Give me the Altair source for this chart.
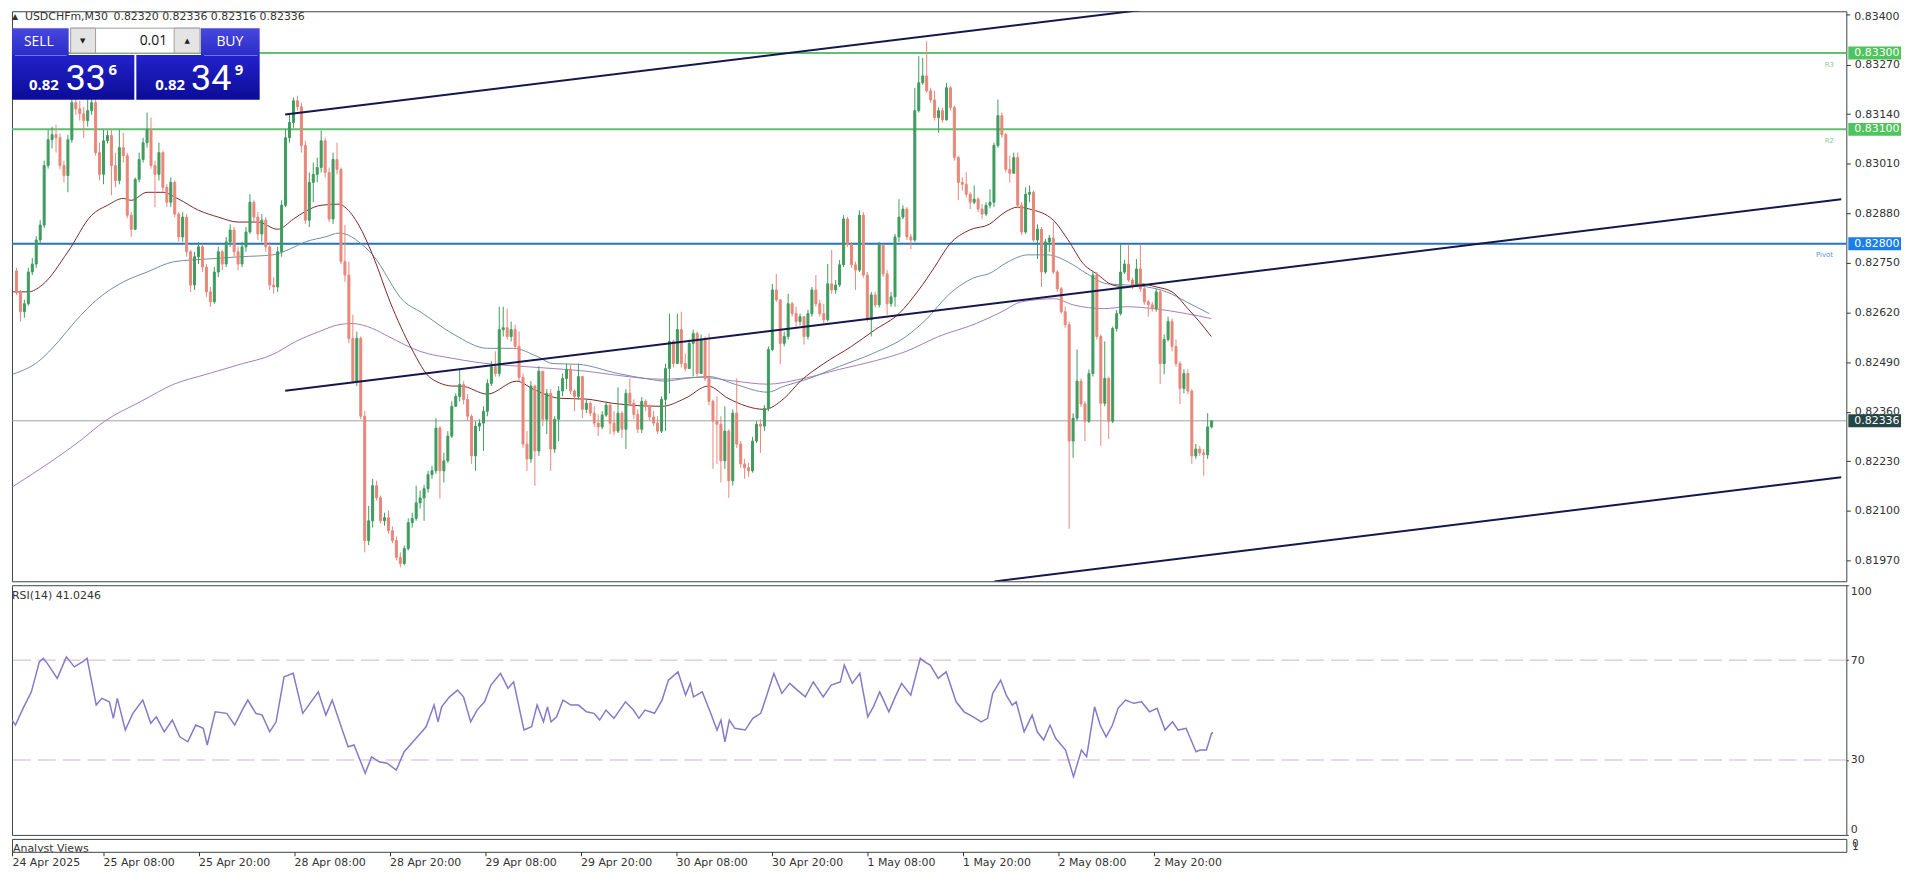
import json
import altair as alt
import numpy as np
import pandas as pd

FONT = "DejaVu Sans"
W, H_MAIN, H_RSI, H_STRIP = 1844, 573, 251, 13
X_DOMAIN = [1.125, 462.125]
P_DOMAIN = [0.819154, 0.834096]

# ---------------- data ----------------
symbol_text = "USDCHFm,M30"
ohlc_text = "0.82320 0.82336 0.82316 0.82336"

first_bar = 1
first_open = 82729
closes = [
    82674, 82622, 82643, 82726, 82747, 82810, 82849, 83005, 83073, 83086,
    83078, 83005, 82979, 83073, 83170, 83154, 83141, 83123, 83149, 83170,
    83039, 82982, 83070, 83084, 83005, 82966, 83052, 83031, 82875, 82838,
    82969, 83021, 83065, 83099, 83005, 82982, 83039, 82948, 82909, 82961,
    82878, 82818, 82870, 82779, 82692, 82766, 82792, 82739, 82674, 82648,
    82726, 82779, 82747, 82805, 82836, 82779, 82747, 82792, 82831, 82909,
    82870, 82826, 82862, 82792, 82692, 82687, 82779, 82901, 83078, 83118,
    83175, 83159, 83058, 82862, 82961, 82982, 83000, 83070, 82987, 82865,
    83021, 82995, 82753, 82718, 82552, 82440, 82552, 82348, 82022, 82074,
    82166, 82134, 82074, 82082, 82048, 82022, 81978, 81962, 82001, 82069,
    82080, 82121, 82134, 82158, 82195, 82205, 82317, 82205, 82231, 82296,
    82374, 82400, 82431, 82392, 82348, 82244, 82322, 82330, 82361, 82434,
    82478, 82460, 82575, 82580, 82557, 82575, 82531, 82450, 82275, 82236,
    82427, 82257, 82466, 82340, 82408, 82262, 82340, 82414, 82447, 82471,
    82414, 82400, 82452, 82366, 82382, 82356, 82330, 82320, 82351, 82377,
    82330, 82309, 82356, 82314, 82408, 82382, 82353, 82314, 82387, 82374,
    82346, 82330, 82309, 82392, 82473, 82544, 82486, 82575, 82486, 82473,
    82539, 82565, 82460, 82549, 82447, 82387, 82335, 82327, 82231, 82309,
    82179, 82356, 82275, 82223, 82213, 82205, 82283, 82327, 82322, 82369,
    82523, 82679, 82653, 82539, 82557, 82643, 82617, 82596, 82609, 82557,
    82617, 82679, 82643, 82617, 82601, 82695, 82679, 82692, 82745, 82865,
    82799, 82745, 82731, 82875, 82718, 82601, 82666, 82640, 82797, 82721,
    82643, 82661, 82818, 82870, 82891, 82818, 82810, 83149, 83222, 83240,
    83201, 83177, 83131, 83149, 83125, 83209, 83157, 83026, 82961, 82956,
    82930, 82909, 82917, 82891, 82878, 82901, 82909, 83058, 83136, 83086,
    82995, 82985, 83026, 82901, 82831, 82930, 82935, 82810, 82838, 82726,
    82805, 82815, 82726, 82682, 82622, 82588, 82283, 82343, 82440, 82380,
    82335, 82460, 82718, 82557, 82382, 82447, 82335, 82578, 82617, 82726,
    82747, 82705, 82692, 82734, 82682, 82648, 82640, 82630, 82674, 82486,
    82549, 82596, 82531, 82486, 82421, 82460, 82414, 82244, 82262, 82252,
    82247, 82320, 82336,
]
highs = [
    82737, 82679, 82653, 82737, 82763, 82820, 82862, 83018, 83099, 83107,
    83112, 83089, 83018, 83086, 83190, 83196, 83175, 83159, 83180, 83201,
    83180, 83065, 83099, 83097, 83099, 83039, 83099, 83091, 83039, 82883,
    82974, 83039, 83078, 83144, 83131, 83018, 83065, 83044, 82956, 82974,
    82966, 82883, 82883, 82878, 82784, 82779, 82805, 82799, 82747, 82687,
    82739, 82792, 82784, 82818, 82851, 82844, 82792, 82805, 82844, 82930,
    82914, 82883, 82878, 82870, 82805, 82713, 82792, 82914, 83099, 83138,
    83183, 83188, 83170, 83070, 82987, 83013, 83026, 83097, 83078, 83000,
    83039, 83065, 83000, 82849, 82753, 82614, 82570, 82557, 82361, 82113,
    82184, 82179, 82140, 82095, 82101, 82059, 82033, 81991, 82009, 82080,
    82095, 82166, 82153, 82168, 82205, 82218, 82343, 82322, 82252, 82309,
    82387, 82408, 82471, 82440, 82406, 82353, 82335, 82340, 82374, 82445,
    82492, 82518, 82635, 82635, 82630, 82596, 82588, 82570, 82460, 82309,
    82440, 82431, 82479, 82431, 82419, 82419, 82348, 82427, 82460, 82486,
    82484, 82419, 82486, 82414, 82392, 82387, 82374, 82353, 82361, 82387,
    82382, 82361, 82424, 82361, 82419, 82447, 82392, 82366, 82398, 82392,
    82379, 82361, 82348, 82400, 82486, 82617, 82549, 82617, 82622, 82512,
    82549, 82575, 82570, 82562, 82557, 82565, 82392, 82400, 82348, 82374,
    82314, 82366, 82447, 82283, 82236, 82226, 82294, 82335, 82340, 82377,
    82531, 82695, 82721, 82635, 82570, 82669, 82648, 82635, 82617, 82609,
    82627, 82687, 82718, 82653, 82643, 82747, 82784, 82705, 82758, 82875,
    82870, 82805, 82753, 82888, 82883, 82726, 82674, 82674, 82805, 82799,
    82731, 82674, 82826, 82917, 82901, 82896, 82826, 83209, 83292, 83287,
    83331, 83209, 83201, 83157, 83157, 83222, 83214, 83162, 83031, 82974,
    82987, 82935, 82953, 82922, 82904, 82909, 82943, 83065, 83178, 83144,
    83091, 83031, 83039, 83039, 82909, 82948, 82953, 82940, 82851, 82844,
    82813, 82823, 82857, 82731, 82687, 82635, 82596, 82356, 82523, 82447,
    82387, 82471, 82726, 82726, 82562, 82544, 82452, 82583, 82627, 82799,
    82758, 82799, 82711, 82760, 82799, 82687, 82653, 82648, 82682, 82679,
    82562, 82609, 82604, 82549, 82492, 82471, 82471, 82419, 82275, 82270,
    82262, 82356, 82336,
]
lows = [
    82666, 82596, 82606, 82638, 82718, 82737, 82799, 82841, 82997, 83050,
    83039, 82995, 82961, 82935, 83065, 83138, 83123, 83078, 83107, 83138,
    83031, 82966, 82956, 83063, 82927, 82948, 82956, 83013, 82867, 82818,
    82836, 82961, 83013, 83052, 82997, 82896, 82966, 82935, 82896, 82896,
    82870, 82805, 82805, 82766, 82674, 82679, 82747, 82726, 82661, 82635,
    82643, 82713, 82731, 82739, 82792, 82766, 82731, 82739, 82779, 82826,
    82857, 82810, 82805, 82779, 82679, 82669, 82674, 82766, 82896, 83065,
    83104, 83149, 83039, 82852, 82844, 82909, 82961, 82987, 82974, 82857,
    82852, 82982, 82747, 82700, 82539, 82434, 82427, 82340, 81991, 82010,
    82056, 82127, 82067, 82061, 82040, 82015, 81970, 81952, 81957, 81996,
    82056, 82074, 82106, 82074, 82148, 82184, 82197, 82132, 82174, 82226,
    82291, 82374, 82387, 82379, 82335, 82223, 82205, 82309, 82257, 82348,
    82427, 82452, 82452, 82557, 82549, 82544, 82523, 82440, 82265, 82205,
    82226, 82166, 82244, 82322, 82301, 82205, 82252, 82283, 82400, 82419,
    82406, 82361, 82392, 82343, 82356, 82348, 82320, 82296, 82314, 82346,
    82301, 82299, 82304, 82291, 82262, 82374, 82340, 82304, 82304, 82361,
    82335, 82322, 82301, 82304, 82309, 82408, 82476, 82497, 82476, 82466,
    82476, 82452, 82452, 82460, 82440, 82377, 82210, 82223, 82174, 82210,
    82134, 82166, 82265, 82213, 82184, 82189, 82200, 82278, 82252, 82309,
    82361, 82518, 82648, 82484, 82531, 82549, 82609, 82583, 82586, 82536,
    82549, 82609, 82635, 82609, 82591, 82596, 82669, 82669, 82687, 82739,
    82792, 82737, 82679, 82726, 82711, 82596, 82557, 82633, 82633, 82713,
    82614, 82635, 82635, 82805, 82865, 82810, 82786, 82805, 83144, 83217,
    83196, 83170, 83123, 83091, 83118, 83123, 83149, 83018, 82914, 82940,
    82922, 82891, 82904, 82883, 82865, 82873, 82893, 82896, 83052, 83078,
    82987, 82961, 82987, 82893, 82823, 82826, 82909, 82805, 82760, 82687,
    82721, 82779, 82721, 82674, 82617, 82580, 82053, 82239, 82335, 82372,
    82283, 82330, 82452, 82549, 82270, 82374, 82288, 82330, 82570, 82612,
    82721, 82700, 82682, 82687, 82674, 82640, 82609, 82622, 82622, 82432,
    82458, 82544, 82518, 82478, 82380, 82408, 82406, 82223, 82236, 82244,
    82192, 82236, 82316,
]

ma_fast_bar = [0, 4, 7.5, 14, 20, 24, 28, 30, 34, 38, 42, 47, 52, 57, 62, 67, 71, 74, 78, 82.5, 84, 87.5,
               91, 95.4, 100.8, 105.8, 111.6, 113.3, 120, 127.4, 131.6, 138.3, 144.9, 151.6, 164.1, 170,
               175.8, 180.8, 190, 195, 199.1, 205, 212, 218, 224, 229, 233, 236.8, 241.8, 246.8, 250.8,
               254, 257, 263, 266.6, 270.8, 274, 278, 281.6, 285, 289, 293, 297, 299.9, 302.9]
ma_fast_val = [82674, 82674, 82692, 82779, 82875, 82901, 82919, 82914, 82935, 82935, 82917, 82888, 82870,
               82857, 82857, 82838, 82865, 82885, 82901, 82904, 82896, 82849, 82771, 82648, 82526, 82447,
               82427, 82427, 82406, 82440, 82419, 82395, 82393, 82382, 82374, 82395, 82427, 82395, 82366,
               82395, 82440, 82486, 82531, 82575, 82617, 82679, 82739, 82799, 82836, 82851, 82883, 82896,
               82891, 82862, 82812, 82745, 82721, 82692, 82687, 82695, 82687, 82674, 82630, 82596, 82557]
ma_mid_bar = [0, 6.6, 11.6, 15.8, 21.6, 28, 34, 40.8, 49, 57.5, 65.8, 70, 74, 79, 82.5, 84, 87.5, 91, 99,
              103, 111.6, 120, 126.6, 132.5, 136.6, 143, 153, 161, 164.9, 170, 176, 182.5, 190.8, 195,
              200.8, 209, 217.5, 225.8, 230.8, 236.8, 243.5, 246.6, 251.6, 256.6, 261.6, 266.6, 271.6,
              276.6, 281.6, 286.6, 291.6, 296.6, 302.4]
ma_mid_val = [82458, 82492, 82544, 82596, 82656, 82700, 82726, 82753, 82760, 82766, 82771, 82786, 82805,
              82818, 82828, 82826, 82805, 82771, 82648, 82622, 82562, 82526, 82526, 82505, 82486, 82484,
              82460, 82445, 82440, 82447, 82452, 82432, 82411, 82427, 82445, 82479, 82513, 82557, 82601,
              82669, 82713, 82721, 82753, 82771, 82771, 82753, 82721, 82695, 82692, 82687, 82674, 82648,
              82617]
ma_slow_bar = [0, 10, 17, 23.3, 32.5, 40.8, 49, 57.5, 65.8, 71.6, 77.5, 82.5, 85.8, 91, 95, 103, 111.6,
               121.6, 128.3, 136.6, 145, 153, 164, 174, 182.5, 190.8, 199, 209, 217.5, 225.8, 234, 243.5,
               250, 255, 263.3, 268, 275.8, 281.6, 288.3, 296.6, 302.9]
ma_slow_val = [82163, 82231, 82283, 82335, 82387, 82432, 82458, 82484, 82510, 82544, 82570, 82588, 82591,
               82578, 82557, 82518, 82499, 82484, 82479, 82473, 82466, 82455, 82445, 82450, 82440, 82432,
               82445, 82471, 82492, 82518, 82557, 82591, 82622, 82648, 82656, 82640, 82630, 82635, 82630,
               82617, 82604]

rsi_bar = [-0.9, 2, 4, 6, 8, 9, 10, 12.5, 14.8, 16.8, 18.8, 20, 22.3, 23.7, 25.6, 26.6, 27.6, 29.6, 31.5,
           34, 36, 37.4, 39.4, 41.4, 43.3, 45.3, 47.3, 49.2, 50.2, 52.2, 55.1, 57.1, 59, 60.4, 62.4, 64,
           65.9, 67.5, 69.5, 71.8, 74.2, 75.7, 78.1, 80, 81.6, 84, 85.6, 87.1, 89.9, 91.5, 93.4, 95.4, 97.7,
           99.7, 102.3, 105.2, 107.2, 108.2, 109.1, 111.1, 113.1, 114.6, 116.4, 118, 119.9, 121.5, 123.9,
           125.8, 127.2, 129.8, 131.7, 133.1, 134.7, 135.7, 136.6, 138, 139.6, 141.6, 143.5, 145.5, 147.4,
           148.8, 150.4, 152.4, 155.3, 157.3, 158.7, 160.2, 162.6, 164.5, 166.1, 168.5, 170.4, 171.6,
           172.4, 174.6, 176.9, 178.3, 179.3, 180.3, 181.4, 182.8, 185.4, 187.3, 189.3, 190.7, 192.6,
           194.6, 196.6, 198.5, 200.5, 202.5, 205, 207, 209.3, 210.3, 212.3, 214.2, 216.2, 217.6, 219.2,
           221.5, 223.1, 224.7, 227, 229.4, 230.5, 231.9, 233.9, 235.9, 238.4, 240.4, 242.7, 244.7, 246.3,
           247.6, 249.6, 251, 252.5, 253.5, 255.5, 257.5, 258.8, 260.4, 262, 263.4, 265.9, 267.9, 269.9,
           271.2, 273.2, 274.6, 276.1, 277.7, 279.1, 281, 283, 285, 287, 288.9, 290.9, 292.8, 294.2,
           296.2, 298.7, 299.7, 301.3, 302.6, 303]
rsi_val = [50.7, 44, 51, 57.3, 69.3, 70.7, 68.7, 62.7, 71.3, 67.3, 69.3, 70.7, 52, 54.7, 53.3, 46.7, 54.7,
           42, 48.7, 54, 44.7, 47.3, 41.3, 46, 39.3, 37.3, 44, 42.7, 36, 49.3, 48.7, 44, 50, 54, 48.7, 48,
           41.3, 45.3, 63.3, 64.7, 48.7, 52, 57.3, 48, 54, 42.7, 35.3, 36, 24.7, 31.3, 29.3, 28.7, 26,
           33.3, 38, 43.3, 52, 45.3, 51.3, 55.3, 58, 55.3, 45.3, 50, 53.3, 60, 64.7, 58.7, 61.3, 42, 43.3,
           52, 45.3, 51.3, 45.3, 47.3, 54, 52, 52, 49.3, 48.7, 46, 50, 46.7, 53.3, 50, 46.7, 50, 48.7, 54,
           62, 65.3, 56, 60.7, 55.3, 57.3, 48, 42, 46, 37.3, 46, 42.7, 42, 46.7, 48.7, 55.3, 64.7, 56.7,
           60.7, 58, 55.3, 61.3, 55.3, 60, 61.3, 68, 60.7, 64.7, 47.3, 51.3, 57.3, 49.3, 55.3, 60.7, 56,
           70.7, 69.3, 68, 62.7, 65.3, 53.3, 49.3, 47.3, 45.3, 46.7, 56.7, 62, 56, 52, 53.3, 41.3, 48,
           41.3, 38, 44, 38.7, 34, 23.3, 34, 31.3, 51.3, 44, 39.3, 44, 50.7, 54, 52.7, 53.3, 49.3, 50.7,
           42, 45.3, 42, 42.7, 33.3, 34, 34, 40.7, 41.02]
rsi_last = "41.0246"

level_prices = [0.83300, 0.83100, 0.82800]
level_names = ["R3", "R2", "Pivot"]
bid_price = 0.82336

trend_names = ["upper", "middle", "lower"]
trend_bar_start = [68.9, 68.9, 248.1]
trend_bar_end = [290.9, 462.1, 462.1]
trend_price_start = [0.83139, 0.82415, 0.81915]
trend_price_end = [0.83420, 0.82917, 0.82188]

price_ticks = [0.81970, 0.82100, 0.82230, 0.82360, 0.82490, 0.82620,
               0.82750, 0.82880, 0.83010, 0.83140, 0.83270, 0.83400]
rsi_ticks = [0, 30, 70, 100]
rsi_levels = [70, 30]
xtick_bars = [0, 24, 48, 72, 96, 120, 144, 168, 192, 216, 240, 264, 288]
xtick_labels = ["24 Apr 2025", "25 Apr 08:00", "25 Apr 20:00", "28 Apr 08:00", "28 Apr 20:00",
                "29 Apr 08:00", "29 Apr 20:00", "30 Apr 08:00", "30 Apr 20:00", "1 May 08:00",
                "1 May 20:00", "2 May 08:00", "2 May 20:00"]

lot_text = "0.01"
sell_parts = ["0.82", "33", "6"]
buy_parts = ["0.82", "34", "9"]

# ---------------- colours ----------------
UP, DOWN = "#3e9c5f", "#e8877a"
MA_COLS = {"fast": "#7d2626", "mid": "#6f8f9f", "slow": "#a47cbd"}
TREND = "#16164e"
GREEN_LVL, PIVOT_LVL, BID_LVL = "#62bf70", "#2474b6", "#9aa3a3"
BOX_GREEN, BOX_BLUE, BOX_DARK = "#4fc45c", "#1a7ee6", "#264646"
TXT = "#333333"
FRAME = "#3a4646"
RSI_COL = "#8878c8"

# ---------------- tables ----------------
n = min(len(closes), len(highs), len(lows))
bars = list(range(first_bar, first_bar + n))
opens = [first_open] + closes[: n - 1]
cdf = pd.DataFrame({"bar": bars, "open": opens, "close": closes[:n], "high": highs[:n], "low": lows[:n]})
cdf["high"] = cdf[["high", "open", "close"]].max(axis=1)
cdf["low"] = cdf[["low", "open", "close"]].min(axis=1)
for c in ["open", "close", "high", "low"]:
    cdf[c] = cdf[c] / 1e5
cdf["col"] = np.where(cdf["close"] >= cdf["open"], UP, DOWN)

ma_rows = []
for name, bb, vv in [("slow", ma_slow_bar, ma_slow_val), ("mid", ma_mid_bar, ma_mid_val),
                     ("fast", ma_fast_bar, ma_fast_val)]:
    for b, v in zip(bb, vv):
        ma_rows.append({"ma": name, "bar": b, "price": v / 1e5, "col": MA_COLS[name]})
madf = pd.DataFrame(ma_rows)

trows = []
for nm, b0, b1, p0, p1 in zip(trend_names, trend_bar_start, trend_bar_end, trend_price_start, trend_price_end):
    trows.append({"line": nm, "bar": b0, "price": p0})
    trows.append({"line": nm, "bar": b1, "price": p1})
tdf = pd.DataFrame(trows)

rsidf = pd.DataFrame({"bar": rsi_bar, "rsi": rsi_val})

box_df = pd.DataFrame({
    "price": level_prices + [bid_price],
    "label": [f"{p:.5f}" for p in level_prices + [bid_price]],
    "bcol": [BOX_GREEN, BOX_GREEN, BOX_BLUE, BOX_DARK],
})

# the top tick sits too close to the panel edge for an axis label; draw it by hand
top_tick = max(price_ticks)
axis_ticks = [t for t in price_ticks if t < top_tick]

# ---------------- scales / axes ----------------
xs = alt.Scale(domain=X_DOMAIN, nice=False, zero=False)
ps = alt.Scale(domain=P_DOMAIN, nice=False, zero=False)
rs = alt.Scale(domain=[0, 100], nice=False, zero=False)

yax = alt.Axis(orient="right", values=axis_ticks, format=".5f", tickSize=4, labelPadding=4,
               domain=False, grid=False, title=None,
               labelFont=FONT, labelFontSize=11, labelColor=TXT, tickColor=TXT, labelOverlap=False)
rax = alt.Axis(orient="right", values=rsi_ticks, format="d", tickSize=2, labelPadding=2,
               labelFlush=True, domain=False, grid=False, title=None, labelFont=FONT,
               labelFontSize=11, labelColor=TXT, tickColor=TXT, labelOverlap=False)
tick_vals = [max(v, X_DOMAIN[0]) for v in xtick_bars]
label_expr = f"{json.dumps(xtick_labels)}[indexof({json.dumps(tick_vals)}, datum.value)]"
xax = alt.Axis(orient="bottom", values=tick_vals, labelExpr=label_expr, tickSize=4, labelPadding=1,
               labelAlign="left", labelBaseline="top", labelFont=FONT, labelFontSize=11,
               labelColor=TXT, tickColor=TXT, domain=False, grid=False, title=None,
               labelOverlap=False, labelFlush=False, labelBound=False)


def XB():
    return alt.X("bar:Q", scale=xs, axis=None)


def YP(field):
    return alt.Y(f"{field}:Q", scale=ps, axis=yax)


def txt(s, x, y, size=11, color=TXT, font=FONT, weight="normal", align="left",
        baseline="middle", clip=False):
    return alt.Chart(pd.DataFrame({"t": [s]})).mark_text(
        align=align, baseline=baseline, fontSize=size, font=font, fontWeight=weight,
        color=color, clip=clip).encode(x=alt.value(x), y=alt.value(y), text="t:N")


def box(x1, x2, y1, y2, fill, stroke=None):
    kw = {"fill": fill}
    if stroke is not None:
        kw["stroke"] = stroke
        kw["strokeWidth"] = 1
    return alt.Chart(pd.DataFrame({"a": [0]})).mark_rect(**kw).encode(
        x=alt.value(x1), x2=alt.value(x2), y=alt.value(y1), y2=alt.value(y2))


lvl_green = alt.Chart(pd.DataFrame({"price": level_prices[:2]})).mark_rule(
    color=GREEN_LVL, strokeWidth=2).encode(y=YP("price"))
lvl_pivot = alt.Chart(pd.DataFrame({"price": level_prices[2:]})).mark_rule(
    color=PIVOT_LVL, strokeWidth=2).encode(y=YP("price"))
lvl_bid = alt.Chart(pd.DataFrame({"price": [bid_price]})).mark_rule(
    color=BID_LVL, strokeWidth=1).encode(y=YP("price"))

ma_lines = alt.Chart(madf).mark_line(clip=True, strokeWidth=1, interpolate="monotone").encode(
    x=XB(), y=YP("price"), detail="ma:N", color=alt.Color("col:N", scale=None))

wicks = alt.Chart(cdf).mark_rule(clip=True, strokeWidth=1).encode(
    x=XB(), y=YP("low"), y2="high:Q", color=alt.Color("col:N", scale=None))
bodies = alt.Chart(cdf).mark_bar(clip=True, width=2, strokeWidth=1).encode(
    x=XB(), y=YP("open"), y2="close:Q", color=alt.Color("col:N", scale=None),
    stroke=alt.Stroke("col:N", scale=None))

trends = alt.Chart(tdf).mark_line(clip=True, color=TREND, strokeWidth=2).encode(
    x=XB(), y=YP("price"), detail="line:N")

boxes = alt.Chart(box_df).mark_rule(strokeWidth=13).encode(
    x=alt.value(W + 2), x2=alt.value(W + 55), y=YP("price"), color=alt.Color("bcol:N", scale=None))
box_txt = alt.Chart(box_df).mark_text(align="left", baseline="middle", font=FONT, fontSize=11,
                                      color="white").encode(
    x=alt.value(W + 8), y=YP("price"), text="label:N")

top_tick_mark = alt.Chart(pd.DataFrame({"price": [top_tick]})).mark_rule(
    color=TXT, strokeWidth=1).encode(x=alt.value(W), x2=alt.value(W + 4), y=YP("price"))
top_tick_label = txt(f"{top_tick:.5f}", W + 8, 5.5, 11, TXT)

grad_top = {"gradient": "linear", "x1": 0, "y1": 0, "x2": 0, "y2": 1,
            "stops": [{"offset": 0, "color": "#4848de"}, {"offset": 1, "color": "#2c2cc8"}]}
grad_low = {"gradient": "linear", "x1": 0, "y1": 0, "x2": 0, "y2": 1,
            "stops": [{"offset": 0, "color": "#2222cc"}, {"offset": 1, "color": "#0c0c96"}]}

panel = [
    box(0, 57, 17, 44, grad_top),
    box(190, 249, 17, 44, grad_top),
    box(0, 123, 44, 89, grad_low),
    box(125, 249, 44, 89, grad_low),
    box(3, 55, 44, 45, "#7070ee"),
    box(193, 247, 44, 45, "#7070ee"),
    box(59, 189, 17, 42, "white", "#a0a0a0"),
    box(59, 84, 17, 42, "#e4e4e4", "#a0a0a0"),
    box(163, 189, 17, 42, "#e4e4e4", "#a0a0a0"),
    txt("SELL", 27, 31, 14, "white", "Open Sans", align="center"),
    txt("BUY", 219, 31, 14, "white", "Open Sans", align="center"),
    txt(lot_text, 156, 30, 14, "#111111", "Open Sans", align="right"),
    txt("▼", 71, 30, 7, "#222222", align="center"),
    txt("▲", 176, 30, 7, "#222222", align="center"),
    txt(sell_parts[0], 17, 79, 15, "white", "Open Sans", "bold", baseline="alphabetic"),
    txt(sell_parts[1], 54, 79, 36, "white", "Roboto", baseline="alphabetic"),
    txt(sell_parts[2], 97, 64, 15, "white", "Open Sans", "bold", baseline="alphabetic"),
    txt(buy_parts[0], 144, 79, 15, "white", "Open Sans", "bold", baseline="alphabetic"),
    txt(buy_parts[1], 180, 79, 36, "white", "Roboto", baseline="alphabetic"),
    txt(buy_parts[2], 224, 64, 15, "white", "Open Sans", "bold", baseline="alphabetic"),
]

labels_main = [
    txt("▲", 0, 2, 8, TXT, baseline="top"),
    txt(symbol_text, 13, 0, 11, TXT, baseline="top"),
    txt(ohlc_text, 102, 0, 11, TXT, baseline="top"),
    txt(level_names[0], 1827, 54, 7, "#90c89a", align="center"),
    txt(level_names[1], 1827, 130, 7, "#90c89a", align="center"),
    txt(level_names[2], 1822, 245, 7, "#5b8fd6", align="center"),
]

main = alt.layer(lvl_green, lvl_pivot, lvl_bid, ma_lines, wicks, bodies, trends,
                 top_tick_mark, top_tick_label, boxes, box_txt,
                 *labels_main, *panel).properties(width=W, height=H_MAIN)

rsi_rules = alt.Chart(pd.DataFrame({"v": rsi_levels})).mark_rule(
    color="#cdb3d3", strokeWidth=1, strokeDash=[18, 7]).encode(y=alt.Y("v:Q", scale=rs, axis=rax))
rsi_line = alt.Chart(rsidf).mark_line(clip=True, color=RSI_COL, strokeWidth=1.5).encode(
    x=XB(), y=alt.Y("rsi:Q", scale=rs, axis=rax))
rsi = alt.layer(rsi_rules, rsi_line, txt(f"RSI(14) {rsi_last}", 0, 11, 11, TXT)).properties(
    width=W, height=H_RSI)

strip_axis = alt.Chart(pd.DataFrame({"bar": tick_vals})).mark_point(opacity=0).encode(
    x=alt.X("bar:Q", scale=xs, axis=xax))
strip = alt.layer(
    strip_axis,
    txt("Analyst Views", 1, 10, 11, TXT, clip=True),
    txt("0", W + 6, 5, 10, TXT),
    txt("1", W + 6, 8, 10, TXT),
).properties(width=W, height=H_STRIP)

chart = alt.vconcat(main, rsi, strip, spacing=2).properties(
    padding=0, background="white").configure_view(stroke=FRAME, strokeWidth=1)

chart.save("out.html", embed_options={"renderer": "svg", "actions": False})
